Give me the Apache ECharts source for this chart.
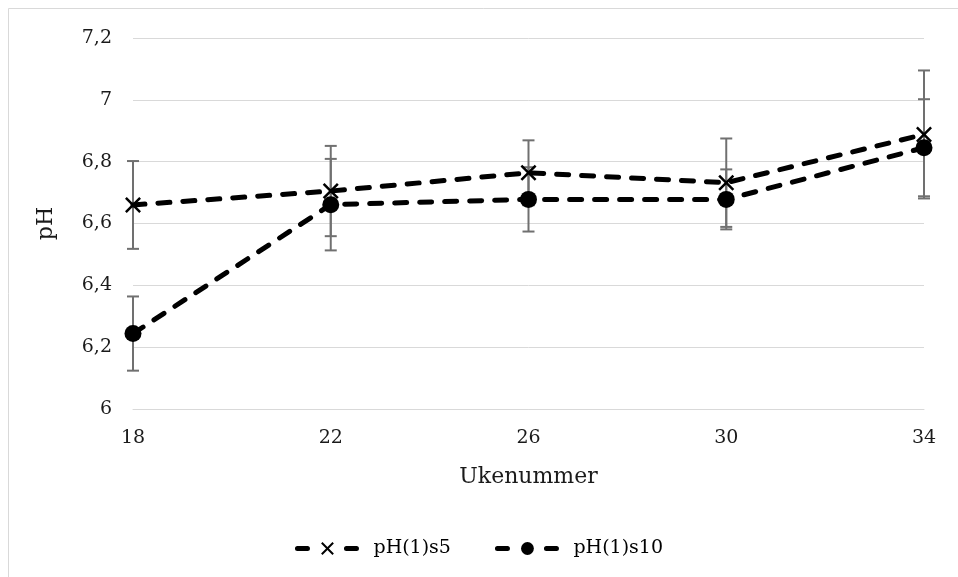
<!DOCTYPE html>
<html>
<head>
<meta charset="utf-8">
<style>
  html, body { margin: 0; padding: 0; background: #fff; }
  #chart { width: 958px; height: 577px; }
</style>
<script src="https://cdn.jsdelivr.net/npm/echarts@6/dist/echarts.min.js"></script>
</head>
<body>
<div id="chart"></div>
<script>
// Week numbers on the x axis
const weeks = ['18', '22', '26', '30', '34'];
// Mean pH per week
const phS5 = [6.660, 6.705, 6.764, 6.732, 6.888];
const phS10 = [6.244, 6.661, 6.678, 6.678, 6.845];
// Error bar half-widths
const errS5 = [0.142, 0.146, 0.105, 0.143, 0.207];
const errS10 = [0.120, 0.148, 0.104, 0.097, 0.157];
// Y axis tick range
const yMin = 6, yMax = 7.2, yStep = 0.2;

const FONT = 'DejaVu Serif';
const TEXT = '#1a1a1a';
const GRID = '#d9d9d9';
const BAR = '#707070';

// thin filled cross used as marker for s5
const crossPath = 'path://M0,1.1L1.1,0L5,3.9L8.9,0L10,1.1L6.1,5L10,8.9L8.9,10L5,6.1L1.1,10L0,8.9L3.9,5Z';

function errorData(means, errs) {
  return weeks.map((w, i) => [i, means[i] - errs[i], means[i] + errs[i]]);
}

function renderErrorBar(params, api) {
  const x = api.value(0);
  const lo = api.coord([x, api.value(1)]);
  const hi = api.coord([x, api.value(2)]);
  const half = 6;
  const style = { stroke: BAR, lineWidth: 2, fill: null };
  return {
    type: 'group',
    children: [
      { type: 'line', shape: { x1: hi[0], y1: hi[1], x2: lo[0], y2: lo[1] }, style },
      { type: 'line', shape: { x1: hi[0] - half, y1: hi[1], x2: hi[0] + half, y2: hi[1] }, style },
      { type: 'line', shape: { x1: lo[0] - half, y1: lo[1], x2: lo[0] + half, y2: lo[1] }, style }
    ]
  };
}

const dashStyle = { color: '#000', width: 5, type: [12, 13], cap: 'round' };

const chart = echarts.init(document.getElementById('chart'), null, { renderer: 'canvas' });
chart.setOption({
  animation: false,
  backgroundColor: '#fff',
  textStyle: { fontFamily: FONT },
  graphic: [{
    type: 'rect',
    shape: { x: 8.5, y: 8.5, width: 1200, height: 1200 },
    style: { fill: null, stroke: GRID, lineWidth: 1 },
    silent: true
  }],
  grid: { left: 133, right: 34, top: 38, bottom: 168 },
  xAxis: {
    type: 'category',
    data: weeks,
    boundaryGap: false,
    name: 'Ukenummer',
    nameLocation: 'middle',
    nameGap: 57,
    nameTextStyle: { fontFamily: FONT, fontSize: 22, color: TEXT },
    axisLine: { show: true, lineStyle: { color: GRID, width: 1 } },
    axisTick: { show: false },
    axisLabel: { fontFamily: FONT, fontSize: 19, color: TEXT, margin: 20 },
    splitLine: { show: false }
  },
  yAxis: {
    type: 'value',
    min: yMin,
    max: yMax,
    interval: yStep,
    name: 'pH',
    nameLocation: 'middle',
    nameGap: 76,
    nameTextStyle: { fontFamily: FONT, fontSize: 22, color: TEXT },
    axisLine: { show: false },
    axisTick: { show: false },
    axisLabel: {
      fontFamily: FONT, fontSize: 19, color: TEXT, margin: 21,
      formatter: v => (Math.round(v * 10) / 10).toString().replace('.', ',')
    },
    splitLine: { lineStyle: { color: GRID, width: 1 } }
  },
  legend: {
    left: 'center',
    top: 534,
    itemWidth: 60,
    itemHeight: 16,
    itemGap: 44,
    lineStyle: { color: '#000', width: 5, type: [10, 39], cap: 'round' },
    textStyle: { fontFamily: FONT, fontSize: 19, color: '#000', padding: [0, 0, 0, 11] },
    data: ['pH(1)s5', 'pH(1)s10']
  },
  series: [
    {
      type: 'custom',
      name: 'errS5',
      renderItem: renderErrorBar,
      data: errorData(phS5, errS5),
      z: 1,
      silent: true
    },
    {
      type: 'custom',
      name: 'errS10',
      renderItem: renderErrorBar,
      data: errorData(phS10, errS10),
      z: 1,
      silent: true
    },
    {
      type: 'line',
      name: 'pH(1)s5',
      data: phS5,
      symbol: crossPath,
      symbolSize: 16,
      showAllSymbol: true,
      itemStyle: { color: '#000' },
      lineStyle: dashStyle,
      z: 3
    },
    {
      type: 'line',
      name: 'pH(1)s10',
      data: phS10,
      symbol: 'circle',
      symbolSize: 17,
      showAllSymbol: true,
      itemStyle: { color: '#000' },
      lineStyle: dashStyle,
      z: 4
    }
  ]
});
</script>
</body>
</html>
